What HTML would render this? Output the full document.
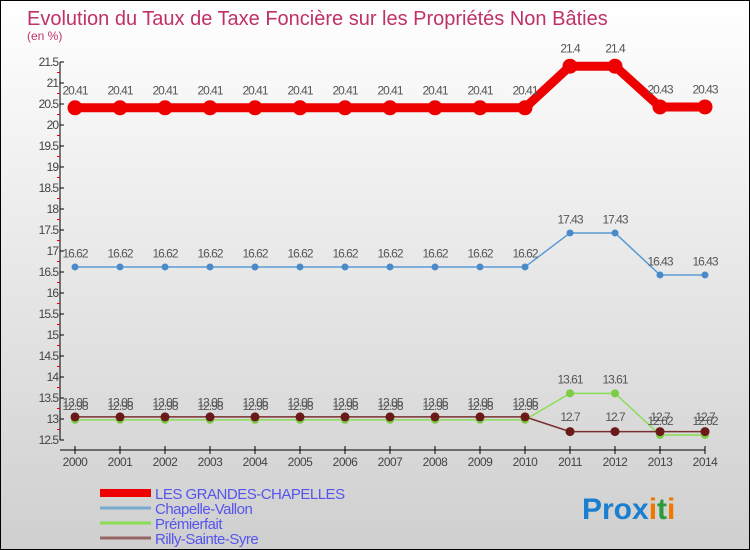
<!DOCTYPE html>
<html><head><meta charset="utf-8"><style>
body{margin:0;}
svg{display:block;font-family:"Liberation Sans",sans-serif;}
</style></head><body>
<svg width="750" height="550">
<defs><linearGradient id="bg" x1="0" y1="0" x2="0" y2="1"><stop offset="0" stop-color="#ffffff"/><stop offset="1" stop-color="#cfcfcf"/></linearGradient></defs>
<rect x="0.5" y="0.5" width="749" height="549" fill="url(#bg)" stroke="#000"/>
<text x="27" y="25" font-size="20" fill="#c0306a">Evolution du Taux de Taxe Foncière sur les Propriétés Non Bâties</text>
<text x="27" y="40" font-size="12" fill="#c0306a">(en %)</text>
<g id="axes"></g>
<g id="series"></g>
<g id="legend"></g>
<text x="582" y="519" font-size="30" font-weight="bold"><tspan fill="#1a7fd0">Pro</tspan><tspan fill="#1a7fd0">x</tspan><tspan fill="#f07800">i</tspan><tspan fill="#2a9a3a">t</tspan><tspan fill="#f07800">i</tspan></text>
</svg>
<script>
const years=[2000,2001,2002,2003,2004,2005,2006,2007,2008,2009,2010,2011,2012,2013,2014];
const grandes=[20.41,20.41,20.41,20.41,20.41,20.41,20.41,20.41,20.41,20.41,20.41,21.4,21.4,20.43,20.43];
const chapelle=[16.62,16.62,16.62,16.62,16.62,16.62,16.62,16.62,16.62,16.62,16.62,17.43,17.43,16.43,16.43];
const premierfait=[12.98,12.98,12.98,12.98,12.98,12.98,12.98,12.98,12.98,12.98,12.98,13.61,13.61,12.62,12.62];
const rilly=[13.05,13.05,13.05,13.05,13.05,13.05,13.05,13.05,13.05,13.05,13.05,12.7,12.7,12.7,12.7];
const yTicks=[12.5,13,13.5,14,14.5,15,15.5,16,16.5,17,17.5,18,18.5,19,19.5,20,20.5,21,21.5];
const seriesNames=["LES GRANDES-CHAPELLES","Chapelle-Vallon","Prémierfait","Rilly-Sainte-Syre"];
const NS="http://www.w3.org/2000/svg";
const x=i=>75+i*45;
const y=v=>440-(v-12.5)*42;
function mk(tag,attrs,parent,txt){const e=document.createElementNS(NS,tag);for(const k in attrs)e.setAttribute(k,attrs[k]);if(txt!==undefined)e.textContent=txt;parent.appendChild(e);return e;}
const ax=document.getElementById('axes');
let e=mk('line',{x1:60,y1:y(21.5),x2:60,y2:y(12.5),stroke:'#000'},ax);


e=mk('line',{x1:60,y1:450,x2:x(14),y2:450,stroke:'#000'},ax);


yTicks.forEach((t,i)=>{
 mk('line',{x1:60,y1:y(t),x2:64,y2:y(t),stroke:'#000'},ax);
 if(i<yTicks.length-1) mk('line',{x1:57,y1:y(t+0.25),x2:60,y2:y(t+0.25),stroke:'#e00'},ax);
 e=mk('text',{x:58,y:y(t)+4,'font-size':12,'text-anchor':'end',fill:'#444','letter-spacing':'-1'},ax,String(t));
 
 
});
years.forEach((yr,i)=>{
 mk('line',{x1:x(i),y1:446,x2:x(i),y2:454,stroke:'#000'},ax);
 e=mk('text',{x:x(i),y:466,'font-size':12,'text-anchor':'middle',fill:'#444','letter-spacing':'-0.5'},ax,String(yr));
 
 
});
const sg=document.getElementById('series');
function draw(vals,color,w,r,mcolor,name,fsize){
 const g=mk('g',{},sg);
 
 
 const pts=vals.map((v,i)=>x(i)+','+y(v)).join(' ');
 mk('polyline',{points:pts,fill:'none',stroke:color,'stroke-width':w,'stroke-linejoin':'round'},g);
 vals.forEach((v,i)=>{
  const c=mk('circle',{cx:x(i),cy:y(v),r:r,fill:mcolor},g);
  
  
  const t=mk('text',{x:x(i),y:y(v)-(r+6),'font-size':fsize,'text-anchor':'middle',fill:'#555','letter-spacing':'-1'},g,String(v));
  
  
 });
}
draw(chapelle,'#5b9bd5',1.5,3.5,'#4a8ac8','chapelle-vallon-series',12);
draw(premierfait,'#88dd55',1.5,4,'#7ccc44','premierfait-series',12);
draw(rilly,'#7a3030',1.5,4.5,'#6b1a1a','rilly-series',12);
draw(grandes,'#ee0000',9,7.5,'#ee0000','grandes-chapelles-series',12);
const lg=document.getElementById('legend');
const lcols=['#ee0000','#77aacc','#88dd55','#996666'];
const lw=[8,3,3,3];
seriesNames.forEach((n,i)=>{
 const yy=493+i*15;
 const g=mk('g',{},lg);
 
 
 mk('line',{x1:100,y1:yy,x2:151,y2:yy,stroke:lcols[i],'stroke-width':lw[i]},g);
 mk('text',{x:155,y:yy+6,'font-size':15,fill:'#5555ee','letter-spacing':'-0.5'},g,n);
});
</script>
</body></html>
